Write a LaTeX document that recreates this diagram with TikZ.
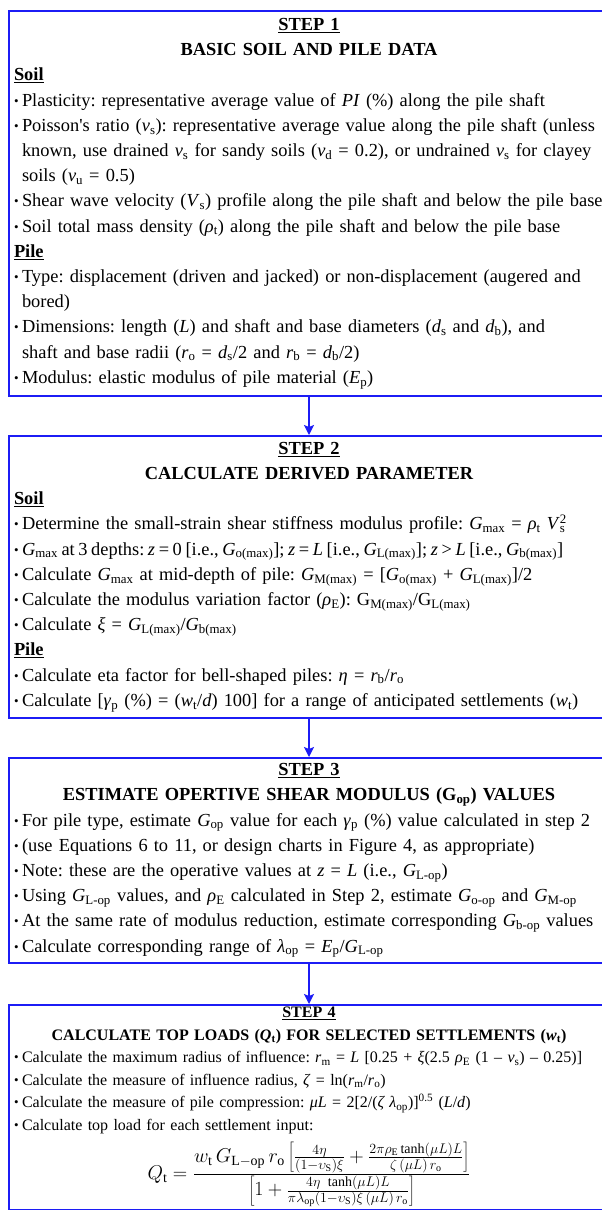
\RequirePackage{fix-cm}
\documentclass[tikz,border=0pt]{standalone}
\usepackage{fontspec}
\setmainfont{Liberation Serif}
\usepackage{tikz}
\usetikzlibrary{arrows.meta, positioning}
\usepackage{xcolor}
\definecolor{stepblue}{HTML}{1C1CF5}
\newcommand{\itm}[1]{\par\noindent\makebox[8pt][l]{\fontsize{13}{13}\selectfont\raisebox{1pt}{\textbullet}}\mbox{#1}}
\newcommand{\cnt}[1]{\par\noindent\hspace*{8pt}\mbox{#1}}
\newcommand{\sbs}[1]{\textsubscript{#1}}
\newcommand{\hd}[1]{\par\noindent\textbf{\underline{#1}}}
\newcommand{\steptitle}[2]{{\centering\bfseries\underline{#1}\par #2\par}}
\frenchspacing

\begin{document}
\begin{tikzpicture}[x=1pt, y=-1pt,
    stepbox/.style={draw=stepblue, line width=2pt, text width=590pt, inner xsep=5pt,
      inner ysep=2pt, align=left, anchor=north},
    big/.style={font=\fontsize{18.4}{25.2}\selectfont},
    small/.style={font=\fontsize{16}{22.5}\selectfont},
    arr/.style={-{Stealth[length=10pt, width=10pt, inset=2pt]}, stepblue, line width=1.6pt}]

  \useasboundingbox (0,0) rectangle (602,1210);
  \clip (0,0) rectangle (602,1210);

  \node[stepbox, big, minimum height=385pt] (s1) at (309,10) {%
    \steptitle{STEP 1}{BASIC SOIL AND PILE DATA}
    \hd{Soil}
    \itm{Plasticity: representative average value of \textit{PI} (\%) along the pile shaft}
    \itm{Poisson\textquotesingle s ratio (\textit{ν}\sbs{s}): representative average value along the pile shaft (unless}
    \cnt{known, use drained \textit{ν}\sbs{s} for sandy soils (\textit{ν}\sbs{d} = 0.2), or undrained \textit{ν}\sbs{s} for clayey}
    \cnt{soils (\textit{ν}\sbs{u} = 0.5)}
    \itm{Shear wave velocity (\textit{V}\sbs{s}) profile along the pile shaft and below the pile base}
    \itm{Soil total mass density (\textit{ρ}\sbs{t}) along the pile shaft and below the pile base}
    \hd{Pile}
    \itm{Type: displacement (driven and jacked) or non-displacement (augered and}
    \cnt{bored)}
    \itm{Dimensions: length (\textit{L}) and shaft and base diameters (\textit{d}\sbs{s} and \textit{d}\sbs{b}), and}
    \cnt{shaft and base radii (\textit{r}\sbs{o} = \textit{d}\sbs{s}/2 and \textit{r}\sbs{b} = \textit{d}\sbs{b}/2)}
    \itm{Modulus: elastic modulus of pile material (\textit{E}\sbs{p})}};

  \node[stepbox, big, minimum height=282pt, below=38pt of s1] (s2) {%
    \steptitle{STEP 2}{CALCULATE DERIVED PARAMETER}
    \hd{Soil}
    \itm{Determine the small-strain shear stiffness modulus profile: \textit{G}\sbs{max} = \textit{ρ}\sbs{t} \textit{V}\rlap{\textsuperscript{2}}\sbs{s}}
    \itm{\spaceskip=3.6pt \textit{G}\sbs{max} at 3 depths: \textit{z} = 0 [i.e., \textit{G}\sbs{o(max)}]; \textit{z} = \textit{L} [i.e., \textit{G}\sbs{L(max)}]; \textit{z} > \textit{L} [i.e., \textit{G}\sbs{b(max)}]}
    \itm{Calculate \textit{G}\sbs{max} at mid-depth of pile: \textit{G}\sbs{M(max)} = [\textit{G}\sbs{o(max)} + \textit{G}\sbs{L(max)}]/2}
    \itm{Calculate the modulus variation factor (\textit{ρ}\sbs{E}): G\sbs{M(max)}/G\sbs{L(max)}}
    \itm{Calculate \textit{ξ} = \textit{G}\sbs{L(max)}/\textit{G}\sbs{b(max)}}
    \hd{Pile}
    \itm{Calculate eta factor for bell-shaped piles: \textit{η} = \textit{r}\sbs{b}/\textit{r}\sbs{o}}
    \itm{Calculate [\textit{γ}\sbs{p} (\%) = (\textit{w}\sbs{t}/\textit{d}) 100] for a range of anticipated settlements (\textit{w}\sbs{t})}};

  \node[stepbox, big, minimum height=205pt, below=38pt of s2] (s3) {%
    \steptitle{STEP 3}{ESTIMATE OPERTIVE SHEAR MODULUS (G\sbs{op}) VALUES}
    \itm{For pile type, estimate \textit{G}\sbs{op} value for each \textit{γ}\sbs{p} (\%) value calculated in step 2}
    \itm{(use Equations 6 to 11, or design charts in Figure 4, as appropriate)}
    \itm{Note: these are the operative values at \textit{z} = \textit{L} (i.e., \textit{G}\sbs{L-op})}
    \itm{Using \textit{G}\sbs{L-op} values, and \textit{ρ}\sbs{E} calculated in Step 2, estimate \textit{G}\sbs{o-op} and \textit{G}\sbs{M-op}}
    \itm{At the same rate of modulus reduction, estimate corresponding \textit{G}\sbs{b-op} values}
    \itm{Calculate corresponding range of \textit{λ}\sbs{op} = \textit{E}\sbs{p}/\textit{G}\sbs{L-op}}};

  \node[stepbox, small, below=40pt of s3] (s4) {%
    \steptitle{STEP 4}{CALCULATE TOP LOADS (\textit{Q}\sbs{t}) FOR SELECTED SETTLEMENTS (\textit{w}\sbs{t})}
    \itm{Calculate the maximum radius of influence: \textit{r}\sbs{m} = \textit{L} [0.25 + \textit{ξ}(2.5 \textit{ρ}\sbs{E} (1 – \textit{ν}\sbs{s}) – 0.25)]}
    \itm{Calculate the measure of influence radius, \textit{ζ} = ln(\textit{r}\sbs{m}/\textit{r}\sbs{o})}
    \itm{Calculate the measure of pile compression: \textit{μL} = 2[2/(\textit{ζ λ}\sbs{op})]\textsuperscript{0.5} (\textit{L}/\textit{d})}
    \itm{Calculate top load for each settlement input:}
    \par\vspace{8pt}
    {\centering\fontsize{20}{24}\selectfont $\displaystyle Q_\mathrm{t} = \frac{w_\mathrm{t}\, G_{\mathrm{L-op}}\, r_\mathrm{o}
      \left[\frac{4\eta}{(1-\upsilon_\mathrm{S})\xi} + \frac{2\pi\rho_\mathrm{E}\tanh(\mu L)L}{\zeta\,(\mu L)\,r_\mathrm{o}}\right]}
      {\left[1+\frac{4\eta\ \tanh(\mu L)L}{\pi\lambda_\mathrm{op}(1-\upsilon_\mathrm{S})\xi\,(\mu L)\,r_\mathrm{o}}\right]}$\par}
    \par\mbox{}};

  \draw[arr] (s1.south) -- (s2.north);
  \draw[arr] (s2.south) -- (s3.north);
  \draw[arr] (s3.south) -- (s4.north);
\end{tikzpicture}
\end{document}
